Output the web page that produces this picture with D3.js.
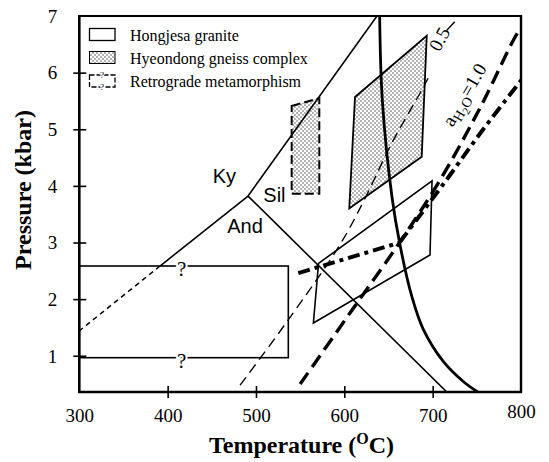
<!DOCTYPE html>
<html><head><meta charset="utf-8">
<script src="https://cdn.jsdelivr.net/npm/d3@7"></script>
<style>body{margin:0;background:#fff}</style>
</head><body>
<svg id="c" width="549" height="462"></svg>
<script>
// ---------- data ----------
const xTicks = [300, 400, 500, 600, 700, 800];
const yTicks = [1, 2, 3, 4, 5, 6, 7];
const legendLabels = ["Hongjesa granite", "Hyeondong gneiss complex", "Retrograde metamorphism"];
const phaseLabels = [["Ky", 451, 4.045], ["Sil", 508.3, 3.72], ["And", 467.5, 3.17]];
const kyAndSolid = [[491, 3.82], [391.4, 2.585]];
const kyAndDashed = [[391.4, 2.585], [300, 1.44]];
const kySil = [[491, 3.82], [637, 7.0]];
const andSil = [[491, 3.82], [716, 0.36]];
const solidusT = [640, 643, 654, 663, 676, 689, 712, 735, 751];
const solidusP = [7.0, 5.52, 3.80, 2.96, 2.07, 1.48, 0.9, 0.54, 0.36];
const aw05T = [482, 535, 595, 621.5, 653.6, 687.6, 694.8];
const aw05P = [0.48, 1.60, 2.96, 3.72, 4.75, 5.69, 5.9];
const aw05Tail = [[716, 6.75], [725, 6.9]];
const aw10T = [550, 606.4, 663, 708.3, 753.6, 796.9, 802];
const aw10P = [0.5, 1.755, 3.01, 4.10, 5.375, 6.72, 6.8];
const dashDotSteep = [[663, 3.01], [713.9, 4.07], [759.2, 5.04], [802, 5.9]];
const dashDotShallow = [[547.9, 2.46], [663, 3.0]];
const gneiss = [[612.1, 5.57], [693.3, 6.65], [687.6, 4.515], [605.6, 3.60]];
const retrograde = [[540.4, 5.41], [571.7, 5.55], [571.7, 3.86], [540.4, 3.86]];
const granitePoly = [[570.8, 2.63], [699.3, 4.09], [697.0, 2.78], [565.0, 1.58]];
const graniteBoxT = [300, 536.6];
const graniteBoxP = [0.966, 2.585];
const questionT = 416;
const label05 = [714, 6.54];
const labelAw = [742.3, 5.55];

// ---------- setup ----------
const svg = d3.select("#c");
const x = d3.scaleLinear().domain([300, 800]).range([79.3, 521]);
const y = d3.scaleLinear().domain([0.36, 7]).range([392, 16]);
const serif = "'Liberation Serif', 'Times New Roman', serif";
const sans = "'Liberation Sans', Arial, sans-serif";

const defs = svg.append("defs");
const pat = defs.append("pattern").attr("id", "stip").attr("patternUnits", "userSpaceOnUse")
  .attr("width", 4).attr("height", 4);
pat.append("rect").attr("width", 4).attr("height", 4).attr("fill", "#fff");
pat.append("circle").attr("cx", 1).attr("cy", 1).attr("r", 0.8).attr("fill", "#555");
pat.append("circle").attr("cx", 3).attr("cy", 3).attr("r", 0.8).attr("fill", "#555");
defs.append("clipPath").attr("id", "clip").append("rect")
  .attr("x", 79.3).attr("y", 16).attr("width", 521 - 79.3).attr("height", 392 - 16);

const line = d3.line().x(d => x(d[0])).y(d => y(d[1]));
const curve = d3.line().x(d => x(d[0])).y(d => y(d[1])).curve(d3.curveCatmullRom.alpha(0.5));
const zip = (a, b) => a.map((v, i) => [v, b[i]]);

const g = svg.append("g").attr("clip-path", "url(#clip)");

// fills
g.append("path").attr("d", line(gneiss) + "Z").attr("fill", "url(#stip)")
  .attr("stroke", "#000").attr("stroke-width", 1.8).attr("stroke-linejoin", "miter");
g.append("path").attr("d", line(retrograde) + "Z").attr("fill", "url(#stip)")
  .attr("stroke", "#000").attr("stroke-width", 2).attr("stroke-dasharray", "9,4");

// aluminosilicate lines
[kyAndSolid, kySil, andSil].forEach(d =>
  g.append("path").attr("d", line(d)).attr("fill", "none").attr("stroke", "#000").attr("stroke-width", 1.6));
g.append("path").attr("d", line(kyAndDashed)).attr("fill", "none").attr("stroke", "#000")
  .attr("stroke-width", 1.5).attr("stroke-dasharray", "5,4");

// Hongjesa granite box
g.append("rect").attr("x", x(graniteBoxT[0])).attr("y", y(graniteBoxP[1]))
  .attr("width", x(graniteBoxT[1]) - x(graniteBoxT[0])).attr("height", y(graniteBoxP[0]) - y(graniteBoxP[1]))
  .attr("fill", "none").attr("stroke", "#000").attr("stroke-width", 1.6);
// Hongjesa granite polygon
g.append("path").attr("d", line(granitePoly) + "Z").attr("fill", "none")
  .attr("stroke", "#000").attr("stroke-width", 1.6);

// solidus curve
g.append("path").attr("d", curve(zip(solidusT, solidusP))).attr("fill", "none")
  .attr("stroke", "#000").attr("stroke-width", 2.8);

// aH2O = 0.5
g.append("path").attr("d", curve(zip(aw05T, aw05P))).attr("fill", "none")
  .attr("stroke", "#000").attr("stroke-width", 1.4).attr("stroke-dasharray", "10,6");
g.append("path").attr("d", line(aw05Tail)).attr("fill", "none")
  .attr("stroke", "#000").attr("stroke-width", 1.4);

// aH2O = 1.0
g.append("path").attr("d", curve(zip(aw10T, aw10P))).attr("fill", "none")
  .attr("stroke", "#000").attr("stroke-width", 3.4).attr("stroke-dasharray", "14,7");

// dash-dot paths
g.append("path").attr("d", curve(dashDotSteep)).attr("fill", "none")
  .attr("stroke", "#000").attr("stroke-width", 4).attr("stroke-dasharray", "12,5,4,5");
g.append("path").attr("d", line(dashDotShallow)).attr("fill", "none")
  .attr("stroke", "#000").attr("stroke-width", 4).attr("stroke-dasharray", "12,5,4,5");

// question marks on the granite box
[graniteBoxP[1], graniteBoxP[0]].forEach(p =>
  svg.append("text").attr("x", x(questionT)).attr("y", y(p) + 10).attr("text-anchor", "middle")
    .attr("font-family", serif).attr("font-size", 21).text("?")
    .attr("stroke", "#fff").attr("stroke-width", 4).attr("paint-order", "stroke"));

// phase labels
phaseLabels.forEach(([t, tx, ty]) =>
  svg.append("text").attr("x", x(tx)).attr("y", y(ty)).attr("font-family", sans)
    .attr("font-size", 20).text(t));

// line labels
svg.append("text").attr("transform", `translate(${x(label05[0])},${y(label05[1])}) rotate(-62)`)
  .attr("text-anchor", "middle").attr("font-family", serif).attr("font-size", 19).text("0.5");
const aw = svg.append("text").attr("transform", `translate(${x(labelAw[0])},${y(labelAw[1])}) rotate(-60)`)
  .attr("text-anchor", "middle").attr("font-family", serif).attr("font-size", 19);
aw.append("tspan").text("a");
aw.append("tspan").attr("font-size", 14).attr("dy", 4).text("H");
aw.append("tspan").attr("font-size", 11).attr("dy", 3).text("2");
aw.append("tspan").attr("font-size", 14).attr("dy", -3).text("O");
aw.append("tspan").attr("font-size", 19).attr("dy", -4).text("=1.0");

// ---------- axes ----------
const xa = svg.append("g").attr("transform", "translate(0,392)")
  .call(d3.axisBottom(x).tickValues(xTicks).tickSize(6).tickFormat(d3.format("d")));
xa.select(".domain").remove();
xa.selectAll(".tick line").attr("y1", -6).attr("y2", 6).attr("stroke-width", 1.6)
  .filter(d => d === 300 || d === 800).remove();
xa.selectAll(".tick text").attr("y", 30).attr("dy", null)
  .attr("font-family", serif).attr("font-size", 19).attr("fill", "#000")
  .filter(d => d === 800).attr("y", 26);

const ya = svg.append("g").attr("transform", "translate(79.3,0)")
  .call(d3.axisLeft(y).tickValues(yTicks).tickSize(6).tickFormat(d3.format("d")));
ya.select(".domain").remove();
ya.selectAll(".tick line").attr("x1", 7).attr("x2", -6).attr("stroke-width", 1.6)
  .filter(d => d === 7).remove();
ya.selectAll(".tick text").attr("x", -22).attr("dy", "0.33em")
  .attr("font-family", serif).attr("font-size", 19).attr("fill", "#000");

// frame
const fr = svg.append("g").attr("stroke", "#000").attr("fill", "none");
fr.append("line").attr("x1", 79.3).attr("x2", 79.3).attr("y1", 15).attr("y2", 393).attr("stroke-width", 2.6);
fr.append("line").attr("x1", 78).attr("x2", 522).attr("y1", 392).attr("y2", 392).attr("stroke-width", 2.4);
fr.append("line").attr("x1", 78).attr("x2", 522).attr("y1", 16).attr("y2", 16).attr("stroke-width", 1.8);
fr.append("line").attr("x1", 521).attr("x2", 521).attr("y1", 15).attr("y2", 393).attr("stroke-width", 2.4);

// axis titles
const xt = svg.append("text").attr("x", 301.5).attr("y", 453).attr("text-anchor", "middle")
  .attr("font-family", serif).attr("font-weight", "bold").attr("font-size", 24);
xt.append("tspan").text("Temperature (");
xt.append("tspan").attr("font-size", 16).attr("dy", -9).text("O");
xt.append("tspan").attr("dy", 9).text("C)");
svg.append("text").attr("transform", "translate(31,190) rotate(-90)").attr("text-anchor", "middle")
  .attr("font-family", serif).attr("font-weight", "bold").attr("font-size", 24).text("Pressure (kbar)");

// ---------- legend ----------
const lg = svg.append("g");
const boxY = [28.5, 51.5, 75];
lg.append("rect").attr("x", 89.5).attr("y", boxY[0]).attr("width", 25.5).attr("height", 12)
  .attr("fill", "#fff").attr("stroke", "#000").attr("stroke-width", 1.3);
lg.append("rect").attr("x", 89.5).attr("y", boxY[1]).attr("width", 25.5).attr("height", 12)
  .attr("fill", "url(#stip)").attr("stroke", "#000").attr("stroke-width", 1);
lg.append("rect").attr("x", 89.5).attr("y", boxY[2]).attr("width", 25.5).attr("height", 12)
  .attr("fill", "#fff").attr("stroke", "#000").attr("stroke-width", 1.3).attr("stroke-dasharray", "5,2");
[boxY[2] + 3, boxY[2] + 15].forEach(yy =>
  lg.append("text").attr("x", 102).attr("y", yy).attr("text-anchor", "middle")
    .attr("font-family", serif).attr("font-size", 9).text("?")
    .attr("stroke", "#fff").attr("stroke-width", 2).attr("paint-order", "stroke"));
legendLabels.forEach((t, i) =>
  lg.append("text").attr("x", 130).attr("y", boxY[i] + 12).attr("font-family", serif)
    .attr("font-size", 16).text(t));
</script>
</body></html>
